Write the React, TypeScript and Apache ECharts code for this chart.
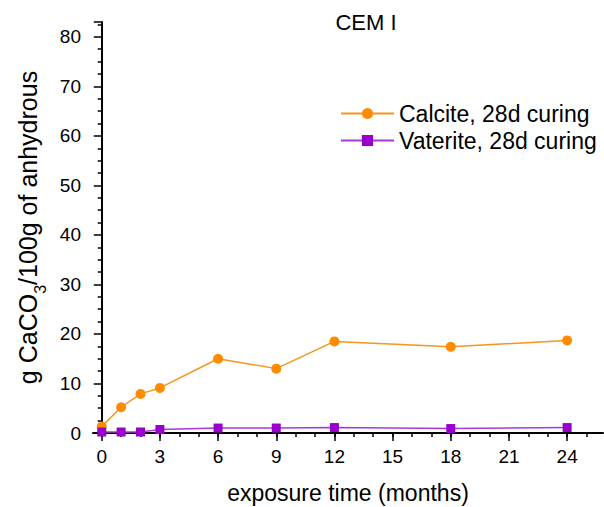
import React, { useEffect, useRef } from "react";
import * as echarts from "echarts";

const months = [0, 1, 2, 3, 6, 9, 12, 18, 24];
const calcite = [1.3, 5.2, 7.9, 9.1, 15.0, 13.0, 18.5, 17.4, 18.7];
const vaterite = [0.2, 0.2, 0.2, 0.7, 1.0, 1.0, 1.1, 0.9, 1.1];
const xMajorTicks = [0, 3, 6, 9, 12, 15, 18, 21, 24];
const xMinorTicks = [0, 1, 2, 3, 4, 5, 6, 7, 8, 9, 10, 11, 12, 13, 14, 15, 16, 17, 18, 19, 20, 21, 22, 23, 24, 25];

const FONT = "Liberation Sans, Arial, sans-serif";

export default function App() {
  const ref = useRef<HTMLDivElement>(null);
  useEffect(() => {
    if (!ref.current) return;
    const chart = echarts.init(ref.current, undefined, { renderer: "svg" });
    const xMin = -0.45;
    const xMax = 25.85;
    chart.setOption({
      animation: false,
      backgroundColor: "#ffffff",
      title: {
        text: "CEM I",
        left: 361,
        top: 6,
        textAlign: "center",
        textStyle: { fontFamily: FONT, fontSize: 22, fontWeight: "normal", color: "#000" },
      },
      legend: {
        orient: "vertical",
        left: 335,
        top: 97,
        itemWidth: 53,
        itemHeight: 14,
        itemGap: 4,
        textStyle: { fontFamily: FONT, fontSize: 23, color: "#000" },
        data: ["Calcite, 28d curing", "Vaterite, 28d curing"],
      },
      grid: { left: 93, right: 1, top: 22, bottom: 74, containLabel: false, outerBoundsMode: "none" },
      xAxis: [
        {
          type: "value",
          min: xMin,
          max: xMax,
          name: "exposure time (months)",
          nameLocation: "middle",
          nameGap: 48,
          nameTextStyle: { fontFamily: FONT, fontSize: 23, color: "#000" },
          axisLine: { show: true, onZero: false, lineStyle: { color: "#000", width: 2 } },
          axisTick: { show: true, inside: false, length: 8, lineStyle: { width: 1.5, color: "#000" }, customValues: xMajorTicks },
          axisLabel: { fontFamily: FONT, fontSize: 19, color: "#000", margin: 14, customValues: xMajorTicks },
          splitLine: { show: false },
        },
        {
          type: "value",
          min: xMin,
          max: xMax,
          position: "bottom",
          axisLine: { show: false },
          axisTick: { show: true, inside: false, length: 4, lineStyle: { width: 1.5, color: "#000" }, customValues: xMinorTicks },
          axisLabel: { show: false },
          splitLine: { show: false },
        },
      ],
      yAxis: {
        type: "value",
        min: 0,
        max: 83,
        interval: 10,
        name: "{a|g CaCO}{s|3}{a|/100g of anhydrous}",
        nameLocation: "middle",
        nameGap: 53,
        nameTextStyle: {
          fontFamily: FONT,
          fontSize: 25,
          color: "#000",
          rich: {
            a: { fontFamily: FONT, fontSize: 25, color: "#000" },
            s: { fontFamily: FONT, fontSize: 16, color: "#000", verticalAlign: "bottom", padding: [0, 0, -8, 0] },
          },
        },
        axisLine: { show: true, lineStyle: { color: "#000", width: 2 } },
        axisTick: { show: true, inside: false, length: 8, lineStyle: { width: 1.5, color: "#000" } },
        minorTick: { show: true, splitNumber: 4, length: 4, lineStyle: { width: 1.5, color: "#000" } },
        axisLabel: {
          fontFamily: FONT,
          fontSize: 19,
          color: "#000",
          margin: 12,
          formatter: (v: number) => (v % 10 === 0 && v <= 80 ? String(v) : ""),
        },
        splitLine: { show: false },
      },
      series: [
        {
          name: "Calcite, 28d curing",
          type: "line",
          xAxisIndex: 0,
          data: months.map((m, i) => [m, calcite[i]]),
          symbol: "circle",
          symbolSize: 10,
          itemStyle: { color: "#FF8C00" },
          lineStyle: { color: "#F7941D", width: 1.5 },
        },
        {
          name: "Vaterite, 28d curing",
          type: "line",
          xAxisIndex: 0,
          data: months.map((m, i) => [m, vaterite[i]]),
          symbol: "rect",
          symbolSize: 9,
          itemStyle: { color: "#9900CC" },
          lineStyle: { color: "#A838D8", width: 1.5 },
        },
      ],
    });
    return () => chart.dispose();
  }, []);
  return <div ref={ref} style={{ width: 604, height: 507, position: "absolute", left: 0, top: 0 }} />;
}
